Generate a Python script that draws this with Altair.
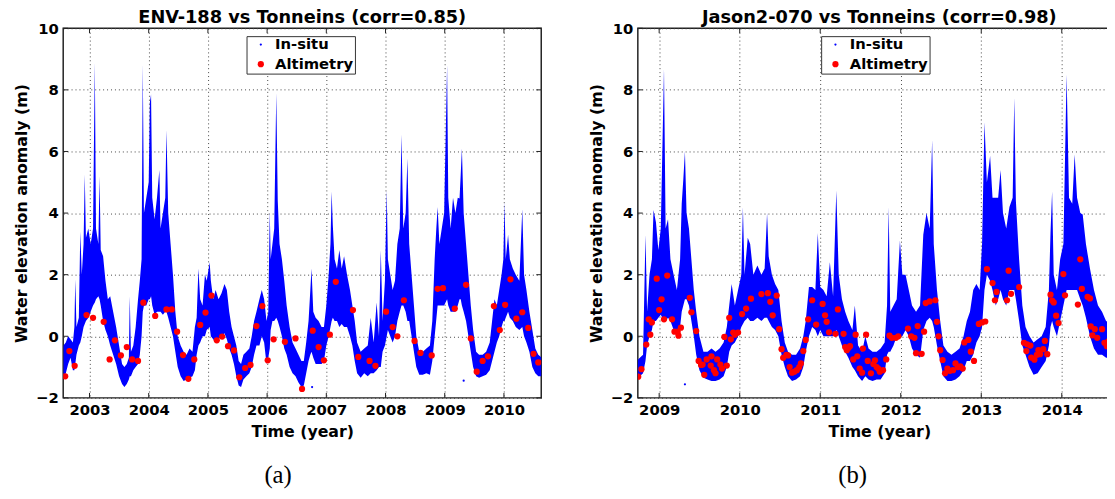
import altair as alt
import pandas as pd

# ---------------- Panel (a): ENV-188 vs Tonneins ----------------
# in-situ envelope: time (decimal year), lower and upper water level (m)
a_time = [2002.56, 2002.60, 2002.64, 2002.68, 2002.72, 2002.745, 2002.76, 2002.78, 2002.82, 2002.845,
          2002.87, 2002.90, 2002.92, 2002.94, 2002.98, 2003.02, 2003.06, 2003.09, 2003.11, 2003.15,
          2003.17, 2003.19, 2003.23, 2003.27, 2003.31, 2003.35, 2003.40, 2003.45, 2003.50, 2003.55,
          2003.59, 2003.63, 2003.665, 2003.68, 2003.70, 2003.74, 2003.78, 2003.82, 2003.85, 2003.88,
          2003.90, 2003.92, 2003.96, 2004.00, 2004.02, 2004.04, 2004.06, 2004.10, 2004.14, 2004.18,
          2004.20, 2004.24, 2004.28, 2004.30, 2004.33, 2004.37, 2004.41, 2004.45, 2004.49, 2004.54,
          2004.59, 2004.64, 2004.69, 2004.74, 2004.78, 2004.81, 2004.84, 2004.87, 2004.91, 2004.95,
          2004.98, 2005.03, 2005.05, 2005.09, 2005.13, 2005.18, 2005.23, 2005.28, 2005.32, 2005.36,
          2005.40, 2005.44, 2005.48, 2005.52, 2005.56, 2005.60, 2005.65, 2005.70, 2005.74, 2005.78,
          2005.82, 2005.87, 2005.91, 2005.95, 2005.99, 2006.02, 2006.045, 2006.06, 2006.09, 2006.12,
          2006.155, 2006.18, 2006.21, 2006.25, 2006.29, 2006.33, 2006.38, 2006.43, 2006.48, 2006.53,
          2006.58, 2006.62, 2006.66, 2006.70, 2006.73, 2006.75, 2006.78, 2006.82, 2006.87, 2006.92,
          2006.96, 2007.00, 2007.04, 2007.07, 2007.09, 2007.11, 2007.14, 2007.18, 2007.22, 2007.26,
          2007.30, 2007.35, 2007.40, 2007.44, 2007.48, 2007.52, 2007.58, 2007.64, 2007.70, 2007.75,
          2007.80, 2007.85, 2007.89, 2007.92, 2007.95, 2007.99, 2008.02, 2008.04, 2008.08, 2008.12,
          2008.16, 2008.20, 2008.24, 2008.27, 2008.30, 2008.34, 2008.37, 2008.40, 2008.44, 2008.48,
          2008.52, 2008.57, 2008.63, 2008.69, 2008.75, 2008.79, 2008.83, 2008.855, 2008.88, 2008.91,
          2008.95, 2008.99, 2009.04, 2009.06, 2009.10, 2009.14, 2009.18, 2009.22, 2009.25, 2009.27,
          2009.29, 2009.32, 2009.36, 2009.40, 2009.44, 2009.48, 2009.53, 2009.58, 2009.64, 2009.70,
          2009.76, 2009.80, 2009.84, 2009.88, 2009.92, 2009.96, 2009.99, 2010.01, 2010.03, 2010.07,
          2010.10, 2010.15, 2010.20, 2010.26, 2010.31, 2010.34, 2010.38, 2010.43, 2010.48, 2010.53,
          2010.58, 2010.64]
a_low = [-1.3, -1.2, -0.9, -0.7, -1.1, -1.1, -0.9, -0.6, -0.3, -0.2,
         0.0, 0.3, 0.4, 0.5, 0.6, 0.8, 1.0, 1.1, 1.2, 1.3,
         1.2, 1.0, 0.5, 0.2, 0.0, -0.3, -0.6, -0.9, -1.3, -1.55,
         -1.65, -1.55, -1.4, -1.3, -1.3, -1.1, -1.0, -0.9, -0.6, 0.0,
         0.8, 1.0, 1.0, 1.2, 1.2, 1.3, 1.0, 0.7, 0.8, 0.8,
         0.8, 0.7, 0.8, 0.8, 0.6, 0.3, 0.0, -0.5, -1.0, -1.3,
         -1.45, -1.4, -1.35, -1.3, -1.1, -0.6, -0.3, -0.2, 0.0, 0.0,
         0.2, 0.3, 0.0, -0.1, -0.2, -0.1, 0.0, 0.1, -0.1, -0.4,
         -0.6, -0.9, -1.3, -1.6, -1.65, -1.4, -1.3, -1.2, -1.0, -0.6,
         -0.3, -0.3, 0.0, -0.2, -0.9, -0.7, -0.4, 0.2, 0.5, 0.5,
         0.6, 0.5, 0.3, 0.0, -0.4, -0.6, -1.0, -1.2, -1.3, -1.5,
         -1.65, -1.6, -1.2, -0.8, -0.6, -0.5, -0.7, -0.9, -0.9, -0.9,
         -0.8, -0.3, 0.0, 0.3, 0.5, 0.6, 0.5, 0.5, 0.3, 0.4,
         0.3, 0.3, 0.0, -0.3, -0.8, -1.2, -1.35, -1.2, -1.3, -1.2,
         -1.2, -1.1, -1.0, -1.0, -0.5, -0.3, 0.0, 0.2, 0.0, -0.2,
         0.0, 0.5, 0.8, 1.0, 1.0, 0.8, 0.5, 0.5, 0.0, -0.5,
         -1.0, -1.25, -1.25, -1.2, -1.25, -0.8, 0.0, 0.5, 1.0, 1.0,
         1.0, 1.0, 1.2, 1.0, 0.8, 0.8, 0.8, 1.0, 1.2, 1.2,
         1.0, 0.8, 0.5, 0.0, -0.5, -1.0, -1.3, -1.35, -1.3, -1.25,
         -1.1, -0.8, -0.5, -0.2, 0.0, 0.3, 0.5, 0.5, 0.6, 0.8,
         0.6, 0.5, 0.3, 0.2, 0.3, 0.0, -0.2, -0.5, -1.0, -1.2,
         -1.3, -1.3]
a_high = [-0.3, -0.2, 0.0, -0.1, -0.2, 0.3, 1.85, 0.3, 0.6, 3.4,
          2.0, 3.0, 5.25, 3.2, 3.5, 3.0, 3.5, 8.9, 3.5, 3.0,
          5.2, 2.8, 2.6, 1.8, 1.2, 1.3, 0.8, 0.3, -0.3, -0.9,
          -1.0, -0.9, -0.7, 1.3, -0.5, -0.3, 0.3, 1.2, 1.8, 2.5,
          8.85, 4.0, 4.5, 5.0, 7.6, 7.85, 4.5, 3.8, 4.5, 5.4,
          3.5, 4.0, 4.5, 6.7, 4.0, 3.0, 2.0, 0.8, 0.0, -0.3,
          -0.5, -0.6, -0.4, -0.5, 0.3, 0.6, 2.2, 1.2, 1.0, 2.0,
          1.8, 2.4, 1.8, 1.2, 1.5, 1.2, 1.4, 1.7, 1.5, 0.8,
          0.3, 0.0, -0.3, -0.8, -0.9, -0.6, -0.5, -0.4, 0.0, 0.5,
          0.8, 1.2, 1.5, 1.2, 0.5, 0.8, 4.05, 2.5, 3.0, 3.5,
          7.9, 4.4, 3.0, 2.5, 1.8, 1.0, 0.3, -0.2, -0.4, -0.6,
          -0.8, -0.8, -0.2, 0.5, 1.5, 2.2, 0.8, 0.6, 0.5, 0.3,
          0.3, 1.0, 2.0, 3.0, 4.7, 3.6, 2.5, 2.2, 2.8, 2.2,
          2.6, 2.0, 1.5, 1.0, 0.5, -0.2, -0.5, -0.4, -0.3, 0.6,
          -0.2, 1.1, 0.0, 2.8, 0.5, 1.8, 4.75, 2.5, 2.0, 1.5,
          1.8, 3.0, 3.5, 6.55, 3.5, 4.0, 5.78, 3.0, 2.0, 1.0,
          0.0, -0.5, -0.5, -0.4, -0.3, 0.5, 2.5, 3.4, 4.2, 3.0,
          3.5, 4.0, 8.8, 4.5, 3.5, 4.5, 4.0, 4.5, 4.47, 5.25,
          6.1, 4.0, 3.0, 2.0, 1.0, 0.2, -0.5, -0.6, -0.6, -0.5,
          -0.2, 0.5, 1.2, 1.0, 1.5, 2.0, 2.5, 4.35, 2.5, 3.3,
          2.5, 2.2, 2.0, 1.8, 4.13, 2.0, 1.5, 0.8, 0.2, -0.4,
          -0.6, -0.7]
# isolated in-situ readings
a_stray_time = [2006.76, 2009.32]
a_stray_val = [-1.65, -1.44]
# altimetry (ENV-188)
a_alt_time = [2002.59, 2002.66, 2002.75, 2002.95, 2003.06, 2003.24, 2003.34, 2003.43, 2003.53, 2003.63,
              2003.72, 2003.82, 2003.91, 2004.11, 2004.30, 2004.39, 2004.48, 2004.58, 2004.67, 2004.77,
              2004.87, 2004.96, 2005.06, 2005.15, 2005.24, 2005.34, 2005.44, 2005.53, 2005.63, 2005.72,
              2005.82, 2005.92, 2006.01, 2006.11, 2006.30, 2006.48, 2006.59, 2006.77, 2006.87, 2006.96,
              2007.06, 2007.16, 2007.45, 2007.54, 2007.73, 2007.83, 2008.01, 2008.12, 2008.20, 2008.31,
              2008.49, 2008.59, 2008.78, 2008.88, 2008.97, 2009.17, 2009.36, 2009.44, 2009.54, 2009.64,
              2009.73, 2009.83, 2009.93, 2010.02, 2010.11, 2010.21, 2010.31, 2010.41, 2010.50, 2010.58]
a_alt_val = [-1.30, -0.48, -0.96, 0.69, 0.60, 0.47, -0.75, -0.13, -0.62, -0.35,
             -0.75, -0.80, 1.09, 0.66, 0.87, 0.87, 0.15, -0.61, -1.38, -0.75,
             0.37, 0.77, 1.32, -0.13, -0.01, -0.32, -0.46, -1.33, -1.03, -0.93,
             0.33, 0.98, -0.78, -0.10, -0.18, -0.07, -1.71, 0.18, -0.35, -0.78,
             0.05, 1.77, 0.85, -0.67, -0.80, -0.96, 0.80, 0.30, 0.00, 1.17,
             -0.15, -0.54, -0.62, 1.54, 1.56, 0.90, 1.67, -0.07, -1.15, -0.80,
             -0.65, 0.98, 0.20, 1.02, 1.85, 0.57, 0.78, 0.27, -0.57, -0.85]

# ---------------- Panel (b): Jason2-070 vs Tonneins ----------------
b_time = [2008.72, 2008.76, 2008.80, 2008.83, 2008.85, 2008.88, 2008.91, 2008.93, 2008.96, 2008.99,
          2009.02, 2009.06, 2009.08, 2009.11, 2009.14, 2009.18, 2009.22, 2009.26, 2009.28, 2009.30,
          2009.32, 2009.34, 2009.37, 2009.40, 2009.43, 2009.46, 2009.50, 2009.55, 2009.60, 2009.65,
          2009.70, 2009.75, 2009.80, 2009.84, 2009.87, 2009.90, 2009.94, 2009.98, 2010.02, 2010.04,
          2010.06, 2010.10, 2010.13, 2010.17, 2010.22, 2010.27, 2010.31, 2010.34, 2010.36, 2010.40,
          2010.44, 2010.48, 2010.52, 2010.56, 2010.60, 2010.65, 2010.70, 2010.75, 2010.79, 2010.82,
          2010.86, 2010.90, 2010.94, 2010.97, 2011.00, 2011.04, 2011.08, 2011.12, 2011.16, 2011.20,
          2011.23, 2011.27, 2011.31, 2011.35, 2011.40, 2011.43, 2011.47, 2011.52, 2011.56, 2011.60,
          2011.65, 2011.70, 2011.75, 2011.80, 2011.83, 2011.85, 2011.87, 2011.91, 2011.95, 2011.99,
          2012.02, 2012.06, 2012.10, 2012.14, 2012.19, 2012.24, 2012.28, 2012.32, 2012.36, 2012.39,
          2012.41, 2012.45, 2012.49, 2012.53, 2012.58, 2012.63, 2012.68, 2012.73, 2012.78, 2012.82,
          2012.86, 2012.90, 2012.94, 2012.98, 2013.01, 2013.04, 2013.07, 2013.11, 2013.14, 2013.18,
          2013.21, 2013.24, 2013.27, 2013.31, 2013.35, 2013.39, 2013.41, 2013.43, 2013.47, 2013.51,
          2013.55, 2013.60, 2013.65, 2013.70, 2013.75, 2013.80, 2013.84, 2013.86, 2013.88, 2013.90,
          2013.94, 2013.98, 2014.02, 2014.06, 2014.09, 2014.13, 2014.16, 2014.19, 2014.23, 2014.26,
          2014.30, 2014.35, 2014.40, 2014.45, 2014.50, 2014.55, 2014.60, 2014.76]
b_low = [-1.3, -1.3, -1.2, -0.8, -0.3, 0.0, 0.2, 0.5, 0.5, 0.6,
         0.7, 0.5, 0.5, 0.6, 0.5, 0.2, 0.0, 0.3, 0.8, 1.0,
         1.2, 1.2, 1.0, 0.5, 0.0, -0.6, -1.1, -1.35, -1.4, -1.45,
         -1.45, -1.4, -1.3, -1.0, -0.5, -0.3, -0.2, 0.0, 0.3, 0.4,
         0.5, 0.6, 0.5, 0.5, 0.6, 0.5, 0.6, 0.6, 0.5, 0.3,
         0.2, 0.0, -0.6, -1.0, -1.3, -1.45, -1.4, -1.3, -1.0, -0.5,
         0.0, 0.3, 0.2, 0.0, 0.2, 0.0, 0.0, 0.0, 0.0, 0.2,
         0.0, -0.3, -0.5, -0.7, -1.0, -1.1, -1.3, -1.45, -1.3, -1.4,
         -1.45, -1.4, -1.4, -1.2, -0.6, -0.5, -0.5, -0.3, 0.0, 0.0,
         0.0, 0.2, 0.0, -0.4, -0.6, -0.7, 0.2, 0.5, 0.6, 0.5,
         0.3, -0.3, -0.8, -1.3, -1.45, -1.45, -1.4, -1.3, -1.1, -0.8,
         -0.8, -0.6, -0.2, 0.0, 0.3, 1.5, 2.0, 1.8, 1.5, 1.0,
         1.2, 1.5, 1.2, 1.0, 1.5, 1.5, 1.5, 1.2, 0.5, -0.3,
         -0.6, -1.0, -1.25, -1.2, -1.0, -0.8, -0.3, 0.3, 0.5, 0.3,
         0.0, 0.5, 1.0, 1.5, 1.5, 1.5, 1.5, 1.5, 1.2, 1.0,
         0.6, 0.0, -0.4, -0.6, -0.6, -0.7, -0.7, -0.6]
b_high = [-0.8, -0.7, -0.6, 3.3, 0.8, 2.0, 2.5, 4.1, 3.7, 2.8,
          3.5, 8.7, 3.5, 3.8, 2.5, 2.0, 1.5, 2.5, 4.3, 5.1,
          6.0, 4.0, 3.5, 2.5, 1.5, 0.8, 0.0, -0.5, -0.5, -0.4,
          -0.5, -0.4, -0.2, 0.3, 1.0, 1.7, 1.0, 1.5, 2.0, 4.2,
          2.0, 3.2, 3.0, 2.0, 2.3, 2.0, 2.2, 4.0, 2.6, 2.0,
          1.7, 1.5, 0.5, -0.2, -0.5, -0.6, -0.6, -0.4, 0.0, 0.5,
          1.6, 1.6, 1.5, 3.35, 1.6, 1.5, 1.3, 2.4, 1.3, 4.73,
          2.0, 1.2, 0.8, 0.5, 0.2, 1.0, -0.3, -0.5, 0.0, -0.4,
          -0.5, -0.5, -0.4, -0.2, 1.0, 4.2, 0.8, 1.0, 1.2, 3.1,
          2.0, 2.0, 1.5, 1.0, 0.8, 1.0, 3.3, 4.0, 3.5, 6.37,
          3.0, 1.5, 0.5, -0.3, -0.5, -0.6, -0.5, -0.4, 0.0, 0.5,
          0.8, 1.5, 1.7, 1.5, 3.0, 6.95, 5.0, 5.85, 4.5, 4.5,
          4.5, 5.4, 4.0, 3.5, 4.2, 4.5, 7.75, 4.4, 2.5, 1.0,
          0.3, 0.0, -0.2, -0.1, 0.0, 0.3, 1.5, 3.35, 4.7, 2.0,
          1.5, 2.5, 3.0, 8.5, 4.5, 4.3, 5.9, 4.5, 4.0, 3.95,
          3.0, 2.2, 1.5, 1.0, 0.8, 0.5, 0.4, 0.5]
b_stray_time = [2009.32]
b_stray_val = [-1.56]
b_alt_time = [2008.74, 2008.78, 2008.84, 2008.87, 2008.89, 2008.91, 2008.97, 2009.00, 2009.03, 2009.06,
              2009.10, 2009.16, 2009.19, 2009.23, 2009.24, 2009.27, 2009.38, 2009.40, 2009.46, 2009.49,
              2009.52, 2009.54, 2009.56, 2009.59, 2009.64, 2009.65, 2009.68, 2009.70, 2009.72, 2009.76,
              2009.78, 2009.81, 2009.84, 2009.87, 2009.89, 2009.92, 2009.94, 2009.98, 2010.03, 2010.08,
              2010.14, 2010.27, 2010.35, 2010.38, 2010.41, 2010.46, 2010.49, 2010.52, 2010.54, 2010.58,
              2010.60, 2010.62, 2010.65, 2010.68, 2010.71, 2010.74, 2010.76, 2010.79, 2010.82, 2010.85,
              2010.90, 2010.95, 2011.03, 2011.06, 2011.08, 2011.11, 2011.19, 2011.22, 2011.29, 2011.31,
              2011.33, 2011.35, 2011.37, 2011.41, 2011.44, 2011.46, 2011.49, 2011.52, 2011.53, 2011.57,
              2011.59, 2011.63, 2011.66, 2011.68, 2011.70, 2011.72, 2011.74, 2011.78, 2011.82, 2011.86,
              2011.89, 2011.94, 2011.97, 2012.09, 2012.13, 2012.17, 2012.19, 2012.21, 2012.26, 2012.29,
              2012.31, 2012.36, 2012.43, 2012.45, 2012.47, 2012.49, 2012.52, 2012.55, 2012.58, 2012.61,
              2012.65, 2012.68, 2012.71, 2012.74, 2012.77, 2012.79, 2012.84, 2012.87, 2012.91, 2012.97,
              2013.01, 2013.05, 2013.07, 2013.14, 2013.17, 2013.19, 2013.32, 2013.34, 2013.37, 2013.47,
              2013.53, 2013.56, 2013.57, 2013.61, 2013.62, 2013.66, 2013.69, 2013.71, 2013.73, 2013.77,
              2013.79, 2013.82, 2013.86, 2013.88, 2013.90, 2013.93, 2013.96, 2014.02, 2014.04, 2014.20,
              2014.23, 2014.25, 2014.32, 2014.35, 2014.36, 2014.38, 2014.41, 2014.44, 2014.50, 2014.53,
              2014.56, 2014.58]
b_alt_val = [-1.31, -1.07, -0.27, 0.55, 0.05, 0.45, 1.87, 0.85, 1.20, 0.55,
             1.97, 0.55, 0.15, 0.15, 0.02, 0.28, 1.25, 0.78, 0.17, -0.80,
             -0.93, -0.92, -1.25, -0.75, -0.95, -0.65, -1.10, -1.20, -0.75, -0.92,
             -1.05, -0.02, -0.95, 0.60, -0.10, 0.12, 0.05, 0.12, 0.72, 0.90,
             1.22, 1.37, 1.40, 1.12, 0.68, 1.32, 0.23, -0.42, -0.70, -0.60,
             -0.62, -1.00, -1.18, -1.15, -1.10, -1.00, -0.88, -0.48, -0.12, 0.55,
             1.17, 0.38, 1.05, 0.68, 0.47, 0.13, 0.08, 0.87, 0.08, -0.35,
             -0.45, -0.38, -0.32, -0.75, 0.05, -0.65, -1.05, -1.18, -0.40, 0.05,
             -0.80, -1.20, -0.90, -0.78, -1.00, -1.05, -1.15, -1.10, -0.75, 0.02,
             -0.05, -0.05, 0.00, 0.25, 0.00, -0.05, -0.55, 0.33, -0.57, 0.15,
             1.08, 1.13, 1.17, 0.47, 0.00, -0.45, -0.77, -1.20, -1.05, -1.12,
             -1.10, -0.88, -1.00, -0.98, -1.05, -0.20, -0.12, -0.50, -0.80, 0.40,
             0.45, 0.48, 2.18, 1.73, 1.17, 1.44, 1.17, 2.13, 1.38, 1.60,
             -0.21, -0.48, -0.26, -0.30, -0.69, -0.76, -0.60, -0.45, -0.58, -0.42,
             -0.15, -0.58, 1.35, 1.16, 1.10, 0.67, 0.43, 2.02, 1.33, 1.03,
             2.50, 1.54, 1.28, 1.23, 0.32, 0.03, 0.23, -0.05, 0.23, -0.21,
             -0.32, -0.16]

Y_TICKS = [-2, 0, 2, 4, 6, 8, 10]
SERIES = ["In-situ", "Altimetry"]
FONT = "DejaVu Sans"


def panel(title, t, lo, hi, st, sv, at, av, xdom, xticks, width, letter):
    insitu = pd.DataFrame({"t": t, "lo": lo, "hi": hi})
    stray = pd.DataFrame({"t": st, "v": sv})
    alti = pd.DataFrame({"t": at, "v": av, "series": ["Altimetry"] * len(at)})
    xt = pd.DataFrame({"t": xticks})
    yt = pd.DataFrame({"v": Y_TICKS})
    xs = alt.Scale(domain=xdom, nice=False, zero=False)
    ys = alt.Scale(domain=[-2, 10], nice=False, zero=False)
    xax = alt.Axis(values=xticks, format="d", title="Time (year)", labelFlush=False)
    yax = alt.Axis(values=Y_TICKS, title="Water elevation anomaly (m)")

    band = alt.Chart(insitu).mark_area(color="#0000ff", clip=True, interpolate="linear").encode(
        x=alt.X("t:Q", scale=xs, axis=xax),
        y=alt.Y("lo:Q", scale=ys, axis=yax),
        y2="hi:Q",
    )
    dots = alt.Chart(stray).mark_circle(color="#0000ff", size=5, opacity=1, clip=True).encode(
        x="t:Q", y="v:Q")
    leg = alt.Legend(title=None, orient="none", legendX=186, legendY=8,
                     symbolType="circle", strokeColor="#333333", fillColor="white",
                     padding=1, rowPadding=4, symbolOffset=6, labelOffset=7,
                     labelFont=FONT, labelFontWeight="bold", labelFontSize=15,
                     labelColor="black", symbolStrokeWidth=0, symbolOpacity=1)
    pts = alt.Chart(alti).mark_circle(opacity=1, clip=True).encode(
        x="t:Q", y="v:Q",
        color=alt.Color("series:N", scale=alt.Scale(domain=SERIES, range=["#0000ff", "#ff0000"]), legend=leg),
        size=alt.Size("series:N", scale=alt.Scale(domain=SERIES, range=[5, 40]), legend=leg),
    )
    # inward tick marks on the frame (matplotlib classic style)
    tick_style = dict(color="#222222", strokeWidth=1)
    xb = alt.Chart(xt).mark_rule(**tick_style).encode(x="t:Q", y=alt.value(375), y2=alt.value(370))
    xtp = alt.Chart(xt).mark_rule(**tick_style).encode(x="t:Q", y=alt.value(0), y2=alt.value(5))
    yl = alt.Chart(yt).mark_rule(**tick_style).encode(y="v:Q", x=alt.value(0), x2=alt.value(5))
    yr = alt.Chart(yt).mark_rule(**tick_style).encode(y="v:Q", x=alt.value(width), x2=alt.value(width - 5))
    lab = alt.Chart(pd.DataFrame({"lab": [letter]})).mark_text(
        font="Liberation Serif", fontSize=25, fontWeight="normal", color="black").encode(
        text="lab:N", x=alt.value(218), y=alt.value(453))
    return alt.layer(band, dots, pts, xb, xtp, yl, yr, lab).properties(title=title, width=width, height=375)


pa = panel("ENV-188 vs Tonneins (corr=0.85)", a_time, a_low, a_high, a_stray_time, a_stray_val,
           a_alt_time, a_alt_val, [2002.556, 2010.63], list(range(2003, 2011)), 485, "(a)")
pb = panel("Jason2-070 vs Tonneins (corr=0.98)", b_time, b_low, b_high, b_stray_time, b_stray_val,
           b_alt_time, b_alt_val, [2008.735, 2014.733], list(range(2009, 2015)), 490, "(b)")

chart = alt.hconcat(pa, pb, spacing=45).resolve_scale(
    color="independent", size="independent", x="independent", y="independent"
).resolve_legend(color="independent", size="independent").properties(
    padding={"left": 5, "top": -3, "right": -16, "bottom": 5}
).configure_axis(
    labelFont=FONT, labelFontWeight="bold", labelFontSize=15, labelColor="black",
    titleFont=FONT, titleFontWeight="bold", titleFontSize=16, titleColor="black",
    grid=True, gridColor="#444444", gridDash=[1, 3], gridWidth=1, ticks=False, domain=False,
).configure_axisX(labelPadding=5, titlePadding=6).configure_axisY(labelPadding=5, titlePadding=6).configure_view(
    stroke="#222222", strokeWidth=1.5
).configure_title(
    font=FONT, fontSize=18, fontWeight="bold", color="black", offset=-6, anchor="middle", baseline="alphabetic"
)

chart.save("out.html", embed_options={"renderer": "svg", "actions": False})
